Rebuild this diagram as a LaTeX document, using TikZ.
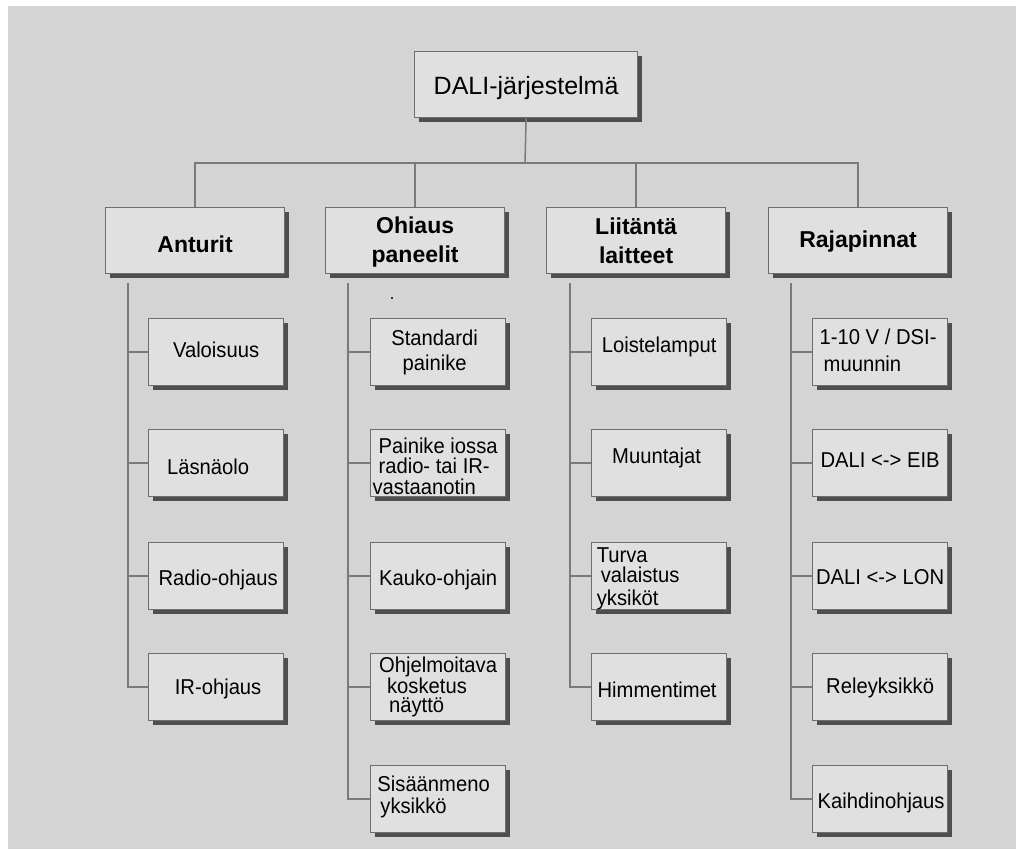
\documentclass[tikz,border=0pt]{standalone}
\usepackage{fontspec}
\setmainfont{Liberation Sans}
\newfontfamily\leaffont{Liberation Sans}[FakeStretch=0.94]
\usetikzlibrary{shadows}
\definecolor{bgc}{HTML}{D4D4D4}
\definecolor{boxc}{HTML}{E0E0E0}
\definecolor{bordc}{HTML}{6E6E6E}
\definecolor{shc}{HTML}{4E4E4E}
\definecolor{linec}{HTML}{7A7A7A}
% text block: #1 horizontal shift, #2 vertical shift, #3 lines (\hbox{...})
\newcommand\tblock[3]{\hbox{\kern#1\raisebox{#2}[\height][\depth]{\vbox{\lineskiplimit=-30pt\lineskip=0pt #3}}\kern-#1}}
\newcommand\cl[1]{\hbox to 130pt{\hfil#1\hfil}}
\begin{document}
\begin{tikzpicture}[x=1pt,y=-1pt,
  base/.style={draw=bordc, fill=boxc, line width=1.2pt, inner sep=0pt, anchor=north west,
    general shadow={fill=shc, shadow xshift=4pt, shadow yshift=-4pt}},
  rootbox/.style={base, minimum width=223pt, minimum height=66pt, text height=20.6pt, text depth=0pt,
    font=\fontsize{25}{30}\selectfont},
  headbase/.style={base, minimum width=179pt, minimum height=66pt, font=\fontsize{23}{29}\selectfont\bfseries},
  headbox/.style={headbase, text depth=0pt},
  leafbase/.style={base, minimum width=135pt, minimum height=67pt, font=\leaffont\fontsize{21.5}{24}\selectfont},
  leafbox/.style={leafbase, text height=19pt, text depth=0pt},
  conn/.style={draw=linec, line width=1.5pt}]
\useasboundingbox (0,0) rectangle (1016,849);
\fill[white] (0,0) rectangle (1016,849);
\fill[bgc] (8,6) rectangle (1016,849);

% top level
\node[rootbox] (root) at (414,51) {DALI-järjestelmä};
\node[headbox, text height=23.4pt] (ant) at (105,207) {Anturit};
\node[headbase] (ohj) at (325,207) {\tblock{0pt}{-1.6pt}{\cl{Ohiaus}\cl{paneelit}}};
\node[headbase] (lii) at (546,207) {\tblock{0pt}{0pt}{\cl{Liitäntä}\cl{laitteet}}};
\node[headbox, text height=13.4pt] (raj) at (768,207) {Rajapinnat};

% Anturit
\node[leafbox, text height=10pt] (a1) at (148,318) {Valoisuus};
\node[leafbox, text height=22pt] (a2) at (148,429) {\hspace*{-16pt}Läsnäolo};
\node[leafbox] (a3) at (148,542) {\hspace*{4pt}Radio-ohjaus};
\node[leafbox, text height=15pt] (a4) at (148,653) {\hspace*{4pt}IR-ohjaus};

% Ohiaus paneelit
\node[leafbase, font=\leaffont\fontsize{21.5}{25}\selectfont] (o1) at (370,318)
  {\tblock{-3.5pt}{0pt}{\cl{Standardi}\cl{painike}}};
\node[leafbase, font=\leaffont\fontsize{21.5}{20.5}\selectfont] (o2) at (370,429)
  {\tblock{0pt}{-3pt}{\hbox{Painike iossa}\hbox{radio- tai IR-}\hbox{\kern-6pt vastaanotin}}};
\node[leafbox] (o3) at (370,542) {Kauko-ohjain};
\node[leafbase, font=\leaffont\fontsize{21.5}{19.5}\selectfont] (o4) at (370,653)
  {\tblock{0pt}{0pt}{\hbox{Ohjelmoitava}\vskip1pt\hbox{\kern8pt kosketus}\hbox{\kern10pt näyttö}}};
\node[leafbase, font=\leaffont\fontsize{21.5}{22}\selectfont] (o5) at (370,765)
  {\tblock{-4.5pt}{2pt}{\hbox{Sisäänmeno}\hbox{\kern3pt yksikkö}}};

% Liitäntä laitteet
\node[leafbox, text height=1pt] (l1) at (591,318) {Loistelamput};
\node[leafbox, text height=1pt] (l2) at (591,429) {\hspace*{-5pt}Muuntajat};
\node[leafbase, font=\leaffont\fontsize{21.5}{20}\selectfont] (l3) at (591,542)
  {\tblock{-21pt}{-2.5pt}{\hbox{Turva}\hbox{\kern4pt valaistus}\vskip3pt\hbox{yksiköt}}};
\node[leafbox, text height=20pt] (l4) at (591,653) {\hspace*{-4pt}Himmentimet};

% Rajapinnat
\node[leafbase, font=\leaffont\fontsize{21.5}{27}\selectfont] (r1) at (812,318)
  {\tblock{-2pt}{1.7pt}{\hbox{1-10 V / DSI-}\hbox{\kern4pt muunnin}}};
\node[leafbox, text height=8pt] (r2) at (812,429) {DALI <-> EIB};
\node[leafbox, text height=17pt] (r3) at (812,542) {DALI <-> LON};
\node[leafbox, text height=13pt] (r4) at (812,653) {Releyksikkö};
\node[leafbox] (r5) at (812,765) {\hspace*{2pt}Kaihdinohjaus};

% connectors, top
\coordinate (bar) at (525,163);
\draw[conn] (root.south) -- (bar);
\draw[conn] (ant.north) |- (bar) -| (raj.north);
\draw[conn] (ohj.north) -- (ohj.north |- bar);
\draw[conn] (lii.north) -- (lii.north |- bar);

% spines
\coordinate (sa) at (128,283);
\coordinate (so) at (348,283);
\coordinate (sl) at (570,283);
\coordinate (sr) at (791,283);

\draw[conn] (sa) |- (a4.west);
\foreach \n in {a1,a2,a3} \draw[conn] (\n.west -| sa) -- (\n.west);
\draw[conn] (so) |- (o5.west);
\foreach \n in {o1,o2,o3,o4} \draw[conn] (\n.west -| so) -- (\n.west);
\draw[conn] (sl) |- (l4.west);
\foreach \n in {l1,l2,l3} \draw[conn] (\n.west -| sl) -- (\n.west);
\draw[conn] (sr) |- (r5.west);
\foreach \n in {r1,r2,r3,r4} \draw[conn] (\n.west -| sr) -- (\n.west);

% stray dot
\fill (392,298) circle (1.1);
\end{tikzpicture}
\end{document}
